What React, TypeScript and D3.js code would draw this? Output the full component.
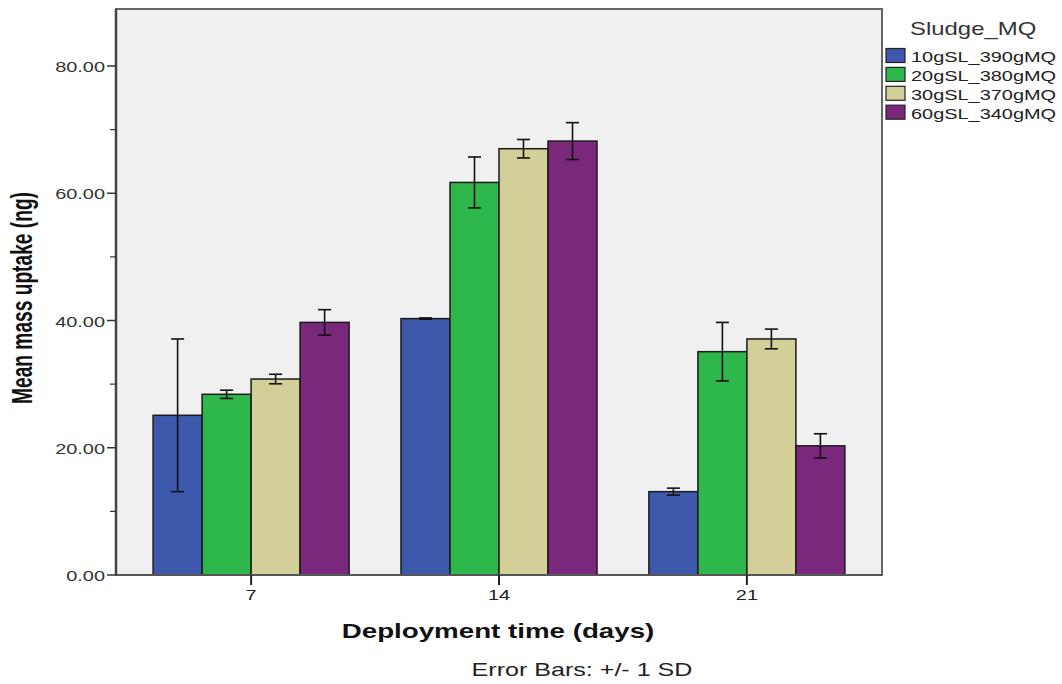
import React from "react";
import * as d3 from "d3";

const categories = ["7", "14", "21"];
const seriesNames = ["10gSL_390gMQ", "20gSL_380gMQ", "30gSL_370gMQ", "60gSL_340gMQ"];
const seriesColors = ["#3E58AC", "#2EB84B", "#D3CF99", "#7A287C"];
// means per series, for days 7, 14, 21
const means = [
  [25.1, 40.3, 13.1],
  [28.4, 61.7, 35.1],
  [30.8, 67.0, 37.1],
  [39.7, 68.2, 20.3],
];
// standard deviations per series, for days 7, 14, 21
const sds = [
  [12.0, 0.1, 0.55],
  [0.65, 4.0, 4.6],
  [0.75, 1.45, 1.55],
  [2.0, 2.9, 1.9],
];
const yTicks = [0, 20, 40, 60, 80];
const yMinorTicks = [10, 30, 50, 70];

const SX = 1.33;
const FONT = "'Liberation Sans', Arial, sans-serif";

export default function App() {
  const left = 116, right = 882, top = 9, bottom = 575;
  const y = d3.scaleLinear().domain([0, 88.96]).range([bottom, top]);
  const x = d3.scalePoint<string>().domain(categories).range([left, right]).padding(0.545);
  const inner = d3.scaleBand<string>().domain(seriesNames).range([-98, 98]).padding(0);
  const bw = inner.bandwidth();

  const T = (props: any) => {
    const { x: tx, y: ty, children, anchor = "start", size = 15, weight = "normal", rotate = 0, family = FONT, fill = "#222", len } = props;
    const tr = `translate(${tx},${ty}) scale(${SX},1)` + (rotate ? ` rotate(${rotate})` : "");
    return (
      <text transform={tr} textAnchor={anchor} fontSize={size} fontWeight={weight} fontFamily={family} fill={fill}
        {...(len ? { textLength: len, lengthAdjust: "spacingAndGlyphs" } : {})}>
        {children}
      </text>
    );
  };

  return (
    <svg width={1062} height={684} style={{ position: "fixed", left: 0, top: 0, background: "#fff" }}>
      <rect x={left} y={top} width={right - left} height={bottom - top} fill="#F0F0F0" stroke="#666" strokeWidth={2} />
      {/* bars */}
      {seriesNames.map((s, si) =>
        categories.map((c, ci) => {
          const cx = (x(c) as number) + (inner(s) as number);
          const v = means[si][ci];
          return (
            <rect key={s + c} x={cx} y={y(v)} width={bw} height={bottom - y(v)} fill={seriesColors[si]} stroke="#1a1a1a" strokeWidth={1.5} />
          );
        })
      )}
      {/* error bars */}
      {seriesNames.map((s, si) =>
        categories.map((c, ci) => {
          const cx = (x(c) as number) + (inner(s) as number) + bw / 2;
          const v = means[si][ci], e = sds[si][ci];
          const y1 = y(v + e), y2 = y(v - e);
          return (
            <g key={"e" + s + c} stroke="#111" strokeWidth={1.6}>
              <line x1={cx} x2={cx} y1={y1} y2={y2} />
              <line x1={cx - 6.5} x2={cx + 6.5} y1={y1} y2={y1} />
              <line x1={cx - 6.5} x2={cx + 6.5} y1={y2} y2={y2} />
            </g>
          );
        })
      )}
      {/* axes */}
      <line x1={left} x2={right} y1={bottom} y2={bottom} stroke="#555" strokeWidth={2} />
      <line x1={left} x2={left} y1={top} y2={bottom} stroke="#444" strokeWidth={2.5} />
      {yTicks.map((t) => (
        <g key={"yt" + t}>
          <line x1={left - 9} x2={left} y1={y(t)} y2={y(t)} stroke="#333" strokeWidth={1.5} />
          <T x={105} y={y(t) + 6} anchor="end" size={15} fill="#333">{d3.format(".2f")(t)}</T>
        </g>
      ))}
      {yMinorTicks.map((t) => (
        <line key={"ym" + t} x1={left - 6} x2={left} y1={y(t)} y2={y(t)} stroke="#333" strokeWidth={1.2} />
      ))}
      {categories.map((c) => (
        <g key={"xt" + c}>
          <line x1={x(c)} x2={x(c)} y1={bottom} y2={bottom + 10} stroke="#222" strokeWidth={2} />
          <T x={x(c)} y={600} anchor="middle" size={15} fill="#222">{c}</T>
        </g>
      ))}
      {/* axis titles */}
      <T x={498} y={638} anchor="middle" size={20} weight="bold" fill="#111" len={235}>Deployment time (days)</T>
      <T x={32} y={298} anchor="middle" size={22} weight="bold" rotate={-90} family="'Liberation Sans Narrow', 'Arial Narrow', Arial, sans-serif" fill="#111" len={212}>Mean mass uptake (ng)</T>
      <T x={582} y={676} anchor="middle" size={18} fill="#222" len={166}>Error Bars: +/- 1 SD</T>
      {/* legend */}
      <T x={910} y={35} size={18} fill="#333">Sludge_MQ</T>
      {seriesNames.map((s, i) => (
        <g key={"lg" + s}>
          <rect x={886} y={48.5 + i * 18.9} width={19} height={14} fill={seriesColors[i]} stroke="#222" strokeWidth={1.2} />
          <T x={911} y={62 + i * 18.9} size={15} fill="#222">{s}</T>
        </g>
      ))}
    </svg>
  );
}
